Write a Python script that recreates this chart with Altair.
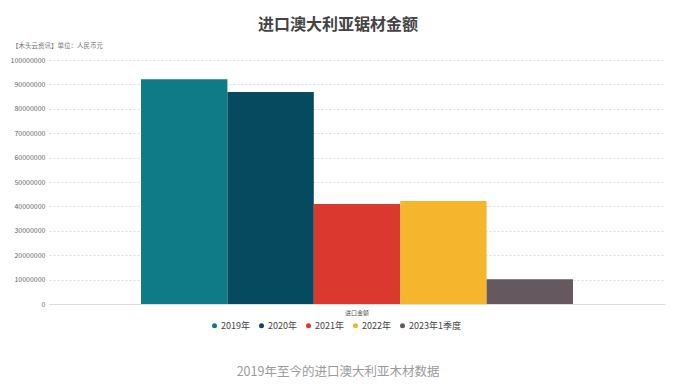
import altair as alt
import pandas as pd

years = ["2019年", "2020年", "2021年", "2022年", "2023年1季度"]
values = [92100000, 86900000, 41000000, 42200000, 10100000]
category = ["进口金额"] * 5
colors = ["#0e7b86", "#064a5f", "#db382f", "#f5b62d", "#65585f"]
y_ticks = [0, 10000000, 20000000, 30000000, 40000000, 50000000,
           60000000, 70000000, 80000000, 90000000, 100000000]

title_text = "进口澳大利亚锯材金额"
source_text = "【木头云资讯】单位：人民币元"
caption_text = "2019年至今的进口澳大利亚木材数据"

FONT = "Noto Sans CJK SC"

df = pd.DataFrame({"cat": category, "year": years, "value": values})

bars = alt.Chart(df).mark_bar().encode(
    x=alt.X("cat:N", title=None,
            scale=alt.Scale(paddingInner=0, paddingOuter=0.213),
            axis=alt.Axis(labelAngle=0, labelFontSize=6, labelColor="#555",
                          labelFont=FONT, ticks=False, domainColor="#dddddd",
                          labelPadding=5)),
    xOffset=alt.XOffset("year:N", sort=years,
                        scale=alt.Scale(paddingInner=0, paddingOuter=0)),
    y=alt.Y("value:Q", title=None,
            scale=alt.Scale(domain=[0, 100000000], nice=False),
            axis=alt.Axis(values=y_ticks, format="d", labelFontSize=7,
                          labelColor="#666", labelFont=FONT, ticks=False,
                          domain=False, gridColor="#dcdcdc", gridDash=[2, 2],
                          labelPadding=4)),
    color=alt.Color("year:N", sort=years,
                    scale=alt.Scale(domain=years, range=colors),
                    legend=alt.Legend(title=None, orient="none", direction="horizontal",
                                      legendX=161, legendY=261,
                                      symbolType="circle", symbolSize=25,
                                      labelFontSize=9, labelFont=FONT,
                                      labelColor="#444", columnPadding=7,
                                      labelOffset=2, symbolStrokeWidth=0)),
)

texts = pd.DataFrame({"t": [title_text]})
title = alt.Chart(texts).mark_text(
    font=FONT, fontSize=16, fontWeight="bold", color="#444", align="center", baseline="middle"
).encode(text="t:N", x=alt.value(289), y=alt.value(-35))

src = alt.Chart(pd.DataFrame({"t": [source_text]})).mark_text(
    font=FONT, fontSize=6.5, color="#777", align="left", baseline="middle"
).encode(text="t:N", x=alt.value(-37), y=alt.value(-14))

cap = alt.Chart(pd.DataFrame({"t": [caption_text]})).mark_text(
    font=FONT, fontSize=12.5, color="#9a9a9a", align="center", baseline="middle"
).encode(text="t:N", x=alt.value(289), y=alt.value(311.5))

chart = alt.layer(bars, title, src, cap).properties(
    width=616, height=244,
    autosize=alt.AutoSizeParams(type="none"),
    padding={"left": 41, "top": 52, "right": 5, "bottom": 76},
    background="white",
).configure_view(stroke=None)

chart.save("out.html", embed_options={"renderer": "svg", "actions": False})
